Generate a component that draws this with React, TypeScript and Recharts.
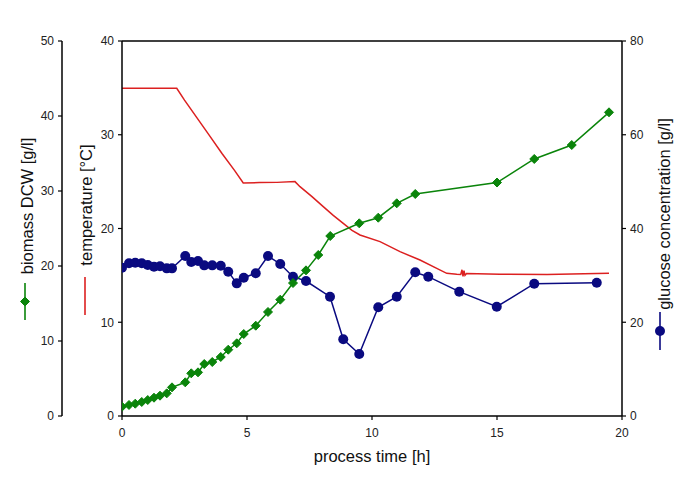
import React from "react";
import { LineChart, Line, XAxis, YAxis, ReferenceLine } from "recharts";

// sampling times [h] and values
const biomassTime = [0, 0.28, 0.53, 0.79, 1.03, 1.28, 1.52, 1.79, 2.0, 2.53, 2.77, 3.04, 3.29, 3.61, 3.95, 4.25, 4.59, 4.87, 5.35, 5.84, 6.33, 6.84, 7.36, 7.85, 8.33, 9.49, 10.25, 10.99, 11.73, 15.0, 16.49, 17.99, 19.48];
const biomassValues = [1.24, 1.47, 1.64, 1.87, 2.13, 2.44, 2.71, 3.02, 3.82, 4.49, 5.69, 5.82, 6.93, 7.2, 7.87, 8.84, 9.69, 10.93, 12.04, 13.87, 15.51, 17.73, 19.42, 21.47, 24.0, 25.69, 26.44, 28.36, 29.6, 31.13, 34.27, 36.13, 40.49];

const glucoseTime = [0, 0.28, 0.53, 0.79, 1.03, 1.28, 1.52, 1.79, 2.0, 2.53, 2.77, 3.04, 3.29, 3.61, 3.95, 4.25, 4.59, 4.87, 5.35, 5.84, 6.33, 6.84, 7.36, 8.32, 8.85, 9.49, 10.25, 10.99, 11.73, 12.25, 13.49, 14.99, 16.49, 18.99];
const glucoseValues = [31.64, 32.57, 32.7, 32.57, 32.2, 31.86, 31.93, 31.5, 31.5, 34.13, 32.85, 33.07, 32.14, 32.14, 32.07, 30.79, 28.3, 29.51, 30.44, 34.13, 32.43, 29.72, 28.8, 25.45, 16.36, 13.23, 23.19, 25.45, 30.66, 29.72, 26.52, 23.32, 28.23, 28.44];

const tempTime = [0, 2.19, 2.5, 3.0, 3.5, 4.0, 4.5, 4.85, 5.5, 6.2, 6.92, 7.12, 7.6, 8.05, 8.45, 8.85, 9.2, 9.52, 10.32, 11.12, 11.92, 12.59, 12.99, 13.39, 13.55, 13.6, 13.64, 13.68, 13.72, 13.78, 15.12, 17.0, 19.48];
const tempValues = [34.95, 34.95, 33.7, 31.8, 29.9, 28.0, 26.2, 24.85, 24.9, 24.92, 25.0, 24.46, 23.4, 22.33, 21.4, 20.55, 19.8, 19.31, 18.6, 17.53, 16.64, 15.75, 15.22, 15.11, 15.1, 15.6, 14.9, 15.5, 15.0, 15.2, 15.11, 15.1, 15.22];

const timeTicks = [0, 5, 10, 15, 20];
const biomassTicks = [0, 10, 20, 30, 40, 50];
const tempTicks = [0, 10, 20, 30, 40];
const glucoseTicks = [0, 20, 40, 60, 80];

const zip = (t: number[], v: number[]) => t.map((x, i) => ({ t: x, v: v[i] }));
const biomassData = zip(biomassTime, biomassValues);
const glucoseData = zip(glucoseTime, glucoseValues);
const tempData = zip(tempTime, tempValues);

// axis ids: the left axes get stacked by id, "a" sits next to the plot
const TEMP_AXIS = "a";
const BIO_AXIS = "b";
const GLU_AXIS = "c";

const GREEN = "#0a840a";
const NAVY = "#0a0a80";
const RED = "#dc2020";
const FONT = "'Liberation Sans', Arial, sans-serif";

const Diamond = (props: any) => {
  const { cx, cy } = props;
  if (cx == null || cy == null) return null;
  const r = 4.5;
  return <path d={`M${cx},${cy - r}L${cx + r},${cy}L${cx},${cy + r}L${cx - r},${cy}Z`} fill={GREEN} stroke={GREEN} strokeWidth={1} />;
};

const Circle = (props: any) => {
  const { cx, cy } = props;
  if (cx == null || cy == null) return null;
  return <circle cx={cx} cy={cy} r={5} fill={NAVY} />;
};

// rotated axis title with its legend symbol below it
const AxisTitle = (props: any) => {
  const { viewBox, text, dx, cy, sym, color, lineTop, lineBottom, kind } = props;
  const x = viewBox.x + dx;
  const mid = (lineTop + lineBottom) / 2;
  return (
    <g>
      <text
        x={x}
        y={cy}
        transform={`rotate(-90 ${x} ${cy})`}
        textAnchor="middle"
        dominantBaseline="central"
        fontSize={16.5}
        fontFamily={FONT}
        fill="#111"
      >
        {text}
      </text>
      <line x1={viewBox.x + sym} x2={viewBox.x + sym} y1={lineTop} y2={lineBottom} stroke={color} strokeWidth={1.6} />
      {kind === "diamond" && <Diamond cx={viewBox.x + sym} cy={mid} />}
      {kind === "circle" && <Circle cx={viewBox.x + sym} cy={mid} />}
    </g>
  );
};

const tickStyle = { fontSize: 12, fontFamily: FONT, fill: "#222" };
const axisLine = { stroke: "#000", strokeWidth: 1.5 };
const tickLine = { stroke: "#000", strokeWidth: 1.2 };

export default function App() {
  return (
    <div style={{ position: "absolute", left: 0, top: 0, width: 685, height: 484, background: "#fff" }}>
      <LineChart width={685} height={484} margin={{ top: 41, right: 0, bottom: 18, left: 2 }}>
        <XAxis
          dataKey="t"
          type="number"
          domain={[0, 20]}
          ticks={timeTicks}
          allowDataOverflow
          height={50}
          tickSize={4}
          tickMargin={8}
          tick={tickStyle}
          axisLine={axisLine}
          tickLine={tickLine}
          label={{ value: "process time [h]", position: "insideBottom", offset: 4, fontSize: 16.5, fontFamily: FONT, fill: "#111" }}
        />
        <YAxis
          yAxisId={TEMP_AXIS}
          orientation="left"
          width={60}
          domain={[0, 40]}
          ticks={tempTicks}
          tickSize={4}
          tickMargin={4}
          tick={tickStyle}
          axisLine={axisLine}
          tickLine={tickLine}
          label={<AxisTitle text="temperature [°C]" dx={24} cy={205} sym={23} color={RED} lineTop={277} lineBottom={315} kind="none" />}
        />
        <YAxis
          yAxisId={BIO_AXIS}
          orientation="left"
          width={60}
          domain={[0, 50]}
          ticks={biomassTicks}
          tickSize={4}
          tickMargin={4}
          tick={tickStyle}
          axisLine={axisLine}
          tickLine={tickLine}
          label={<AxisTitle text="biomass DCW [g/l]" dx={25} cy={206} sym={23} color={GREEN} lineTop={283} lineBottom={320} kind="diamond" />}
        />
        <YAxis
          yAxisId={GLU_AXIS}
          orientation="right"
          width={63}
          domain={[0, 80]}
          ticks={glucoseTicks}
          tickSize={4}
          tickMargin={4}
          tick={tickStyle}
          axisLine={axisLine}
          tickLine={tickLine}
          label={<AxisTitle text="glucose concentration [g/l]" dx={42} cy={214} sym={38} color={NAVY} lineTop={312} lineBottom={350} kind="circle" />}
        />
        <ReferenceLine yAxisId={TEMP_AXIS} y={40} stroke="#000" strokeWidth={1.5} />
        <Line
          yAxisId={TEMP_AXIS}
          data={tempData}
          dataKey="v"
          stroke={RED}
          strokeWidth={1.5}
          dot={false}
          activeDot={false}
          type="linear"
          isAnimationActive={false}
        />
        <Line
          yAxisId={GLU_AXIS}
          data={glucoseData}
          dataKey="v"
          stroke={NAVY}
          strokeWidth={1.5}
          dot={(p: any) => <Circle key={`g-${p.index}`} cx={p.cx} cy={p.cy} />}
          activeDot={false}
          type="linear"
          isAnimationActive={false}
        />
        <Line
          yAxisId={BIO_AXIS}
          data={biomassData}
          dataKey="v"
          stroke={GREEN}
          strokeWidth={1.5}
          dot={(p: any) => <Diamond key={`b-${p.index}`} cx={p.cx} cy={p.cy} />}
          activeDot={false}
          type="linear"
          isAnimationActive={false}
        />
      </LineChart>
    </div>
  );
}
